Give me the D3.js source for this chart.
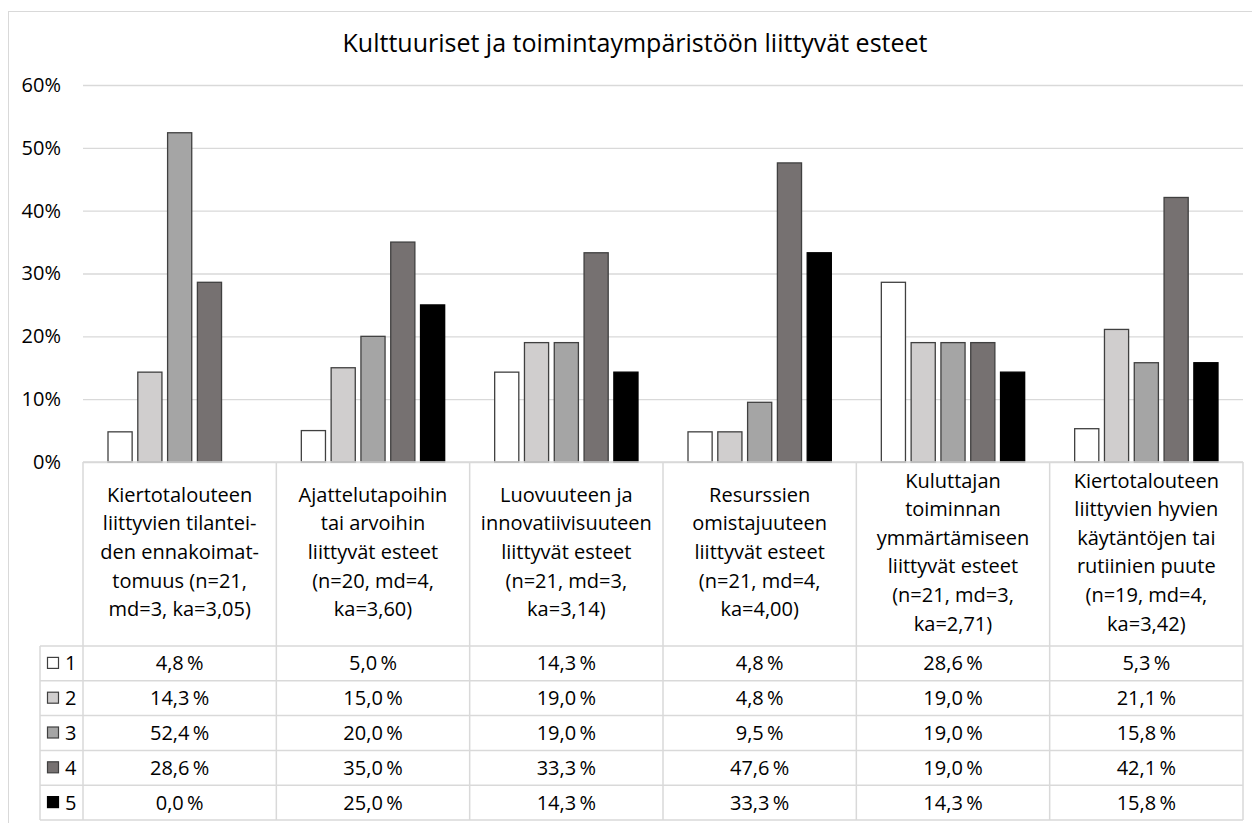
<!DOCTYPE html>
<html>
<head>
<meta charset="utf-8">
<script src="https://cdn.jsdelivr.net/npm/d3@7"></script>
<style>
  body { margin: 0; background: #fff; }
  svg text { font-family: "Open Sans", Lato, sans-serif; fill: #000; }
</style>
</head>
<body>
<div id="chart"></div>
<script>
var categories = [
  ["Kiertotalouteen", "liittyvien tilantei-", "den ennakoimat-", "tomuus (n=21,", "md=3, ka=3,05)"],
  ["Ajattelutapoihin", "tai arvoihin", "liittyvät esteet", "(n=20, md=4,", "ka=3,60)"],
  ["Luovuuteen ja", "innovatiivisuuteen", "liittyvät esteet", "(n=21, md=3,", "ka=3,14)"],
  ["Resurssien", "omistajuuteen", "liittyvät esteet", "(n=21, md=4,", "ka=4,00)"],
  ["Kuluttajan", "toiminnan", "ymmärtämiseen", "liittyvät esteet", "(n=21, md=3,", "ka=2,71)"],
  ["Kiertotalouteen", "liittyvien hyvien", "käytäntöjen tai", "rutiinien puute", "(n=19, md=4,", "ka=3,42)"]
];
var seriesNames = ["1", "2", "3", "4", "5"];
var values1 = [4.8, 5.0, 14.3, 4.8, 28.6, 5.3];
var values2 = [14.3, 15.0, 19.0, 4.8, 19.0, 21.1];
var values3 = [52.4, 20.0, 19.0, 9.5, 19.0, 15.8];
var values4 = [28.6, 35.0, 33.3, 47.6, 19.0, 42.1];
var values5 = [0.0, 25.0, 14.3, 33.3, 14.3, 15.8];
var yTicks = [0, 10, 20, 30, 40, 50, 60];
var colors = ["#ffffff", "#d0cece", "#a5a5a5", "#767171", "#000000"];

var series = [values1, values2, values3, values4, values5];

var svgWidth = 1252;
var svgHeight = 823;

var plot = { left: 83, right: 1243, top: 85, bottom: 462 };
var legendLeft = 40;
var rowTop = 646;
var rowH = 34.8;
var gridColor = "#d9d9d9";
var fontSize = "20px";

var svg = d3.select("#chart")
  .append("svg")
  .attr("width", svgWidth)
  .attr("height", svgHeight);

// chart frame
svg.append("rect")
  .attr("x", 8.5).attr("y", 11.5)
  .attr("width", 1300).attr("height", 900)
  .attr("fill", "none")
  .attr("stroke", gridColor);

svg.append("text")
  .attr("x", 635)
  .attr("y", 43)
  .attr("dy", "0.35em")
  .attr("text-anchor", "middle")
  .attr("font-size", "25px")
  .text("Kulttuuriset ja toimintaympäristöön liittyvät esteet");

var x0 = d3.scaleBand()
  .domain(d3.range(categories.length))
  .range([plot.left, plot.right]);

var x1 = d3.scaleBand()
  .domain(seriesNames)
  .range([25, x0.bandwidth() - 25])
  .paddingInner(0.19);

var y = d3.scaleLinear()
  .domain([0, 60])
  .range([plot.bottom, plot.top]);

// grid + y labels
var yAxis = svg.append("g")
  .attr("transform", `translate(${plot.left},0)`)
  .call(d3.axisLeft(y).tickValues(yTicks).tickSize(-(plot.right - plot.left)).tickFormat(d => d + "%"));
yAxis.select(".domain").remove();
yAxis.selectAll(".tick line").attr("stroke", gridColor).attr("stroke-width", 1.3);
yAxis.selectAll(".tick text")
  .attr("x", -22)
  .attr("font-size", fontSize)
  .style("font-family", "'Open Sans', Lato, sans-serif");

// bars
var groups = svg.selectAll(".cat")
  .data(categories)
  .enter().append("g")
  .attr("transform", (d, i) => `translate(${x0(i)},0)`);

groups.selectAll("rect")
  .data((d, i) => series.map((s, k) => ({ k: k, v: s[i] })))
  .enter().append("rect")
  .attr("x", d => x1(seriesNames[d.k]))
  .attr("y", d => y(d.v))
  .attr("width", x1.bandwidth())
  .attr("height", d => y(0) - y(d.v))
  .attr("fill", d => colors[d.k])
  .attr("stroke", d => d.k === 4 ? "#000" : "#404040")
  .attr("stroke-width", 1.3)
  .attr("display", d => d.v > 0 ? null : "none");

// data table lines
var tableBottom = rowTop + rowH * seriesNames.length;
var lines = svg.append("g").attr("stroke", gridColor).attr("stroke-width", 1.5);
lines.append("line")
  .attr("x1", plot.left).attr("x2", plot.right)
  .attr("y1", plot.bottom).attr("y2", plot.bottom);
d3.range(categories.length + 1).forEach(function(i) {
  var xx = plot.left + i * x0.bandwidth();
  lines.append("line")
    .attr("x1", xx).attr("x2", xx)
    .attr("y1", plot.bottom).attr("y2", tableBottom);
});
lines.append("line")
  .attr("x1", legendLeft).attr("x2", legendLeft)
  .attr("y1", rowTop).attr("y2", tableBottom);
d3.range(seriesNames.length + 1).forEach(function(r) {
  lines.append("line")
    .attr("x1", legendLeft).attr("x2", plot.right)
    .attr("y1", rowTop + r * rowH).attr("y2", rowTop + r * rowH);
});

// category labels
var lineH = 28.6;
groups.each(function(d) {
  var g = d3.select(this);
  var startY = 552 - (d.length - 1) * lineH / 2;
  g.selectAll("text.lbl")
    .data(d)
    .enter().append("text")
    .attr("class", "lbl")
    .attr("x", x0.bandwidth() / 2)
    .attr("y", (t, j) => startY + j * lineH)
    .attr("dy", "0.35em")
    .attr("text-anchor", "middle")
    .attr("font-size", fontSize)
    .text(t => t);
});

// legend keys + values
seriesNames.forEach(function(name, k) {
  var cy = rowTop + k * rowH + rowH / 2;
  svg.append("rect")
    .attr("x", 47.5).attr("y", cy - 6)
    .attr("width", 11).attr("height", 11)
    .attr("fill", colors[k])
    .attr("stroke", k === 4 ? "#000" : "#404040")
    .attr("stroke-width", 1.2);
  svg.append("text")
    .attr("x", 65).attr("y", cy)
    .attr("dy", "0.35em")
    .attr("font-size", fontSize)
    .text(name);
  series[k].forEach(function(v, i) {
    svg.append("text")
      .attr("x", x0(i) + x0.bandwidth() / 2)
      .attr("y", cy)
      .attr("dy", "0.35em")
      .attr("text-anchor", "middle")
      .attr("font-size", fontSize)
      .text(v.toFixed(1).replace(".", ",") + "\u2009%");
  });
});
</script>
</body>
</html>
